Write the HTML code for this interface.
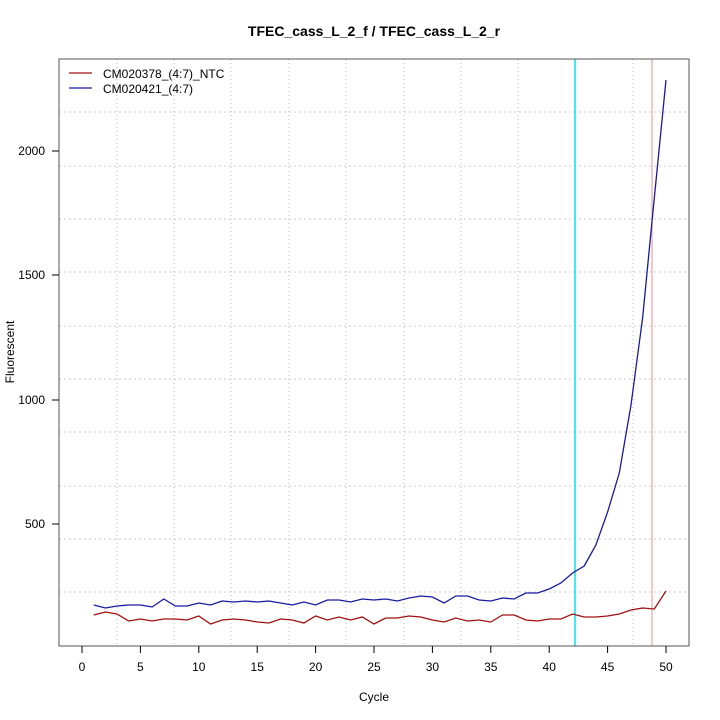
<!DOCTYPE html>
<html><head><meta charset="utf-8"><style>body{margin:0;background:#fff}svg{display:block}text{font-family:"Liberation Sans",sans-serif}</style></head>
<body>
<svg width="720" height="720" viewBox="0 0 720 720" xmlns="http://www.w3.org/2000/svg">
<rect width="720" height="720" fill="#fff"/>
<text x="374" y="36" font-size="14" font-weight="bold" text-anchor="middle">TFEC_cass_L_2_f / TFEC_cass_L_2_r</text>
<g stroke="#aaa" stroke-width="0.8" stroke-dasharray="1,3" fill="none">
<line x1="117" y1="59" x2="117" y2="646"/><line x1="174" y1="59" x2="174" y2="646"/><line x1="231" y1="59" x2="231" y2="646"/><line x1="289" y1="59" x2="289" y2="646"/><line x1="346" y1="59" x2="346" y2="646"/><line x1="404" y1="59" x2="404" y2="646"/><line x1="461" y1="59" x2="461" y2="646"/><line x1="518" y1="59" x2="518" y2="646"/><line x1="633" y1="59" x2="633" y2="646"/>
</g>
<g stroke="#bbb" stroke-width="0.8" stroke-dasharray="2,3" fill="none">
<line x1="59" y1="112" x2="689" y2="112"/><line x1="59" y1="166" x2="689" y2="166"/><line x1="59" y1="219" x2="689" y2="219"/><line x1="59" y1="272" x2="689" y2="272"/><line x1="59" y1="326" x2="689" y2="326"/><line x1="59" y1="379" x2="689" y2="379"/><line x1="59" y1="432" x2="689" y2="432"/><line x1="59" y1="486" x2="689" y2="486"/><line x1="59" y1="539" x2="689" y2="539"/><line x1="59" y1="592" x2="689" y2="592"/>
</g>
<line x1="575" y1="59" x2="575" y2="646" stroke="#00e5ee" stroke-width="1.5"/>
<line x1="652" y1="59" x2="652" y2="646" stroke="#f4a8a8" stroke-width="1.3"/>
<rect x="59" y="59" width="630" height="587" fill="none" stroke="#555" stroke-width="1"/>
<g stroke="#000" stroke-width="1">
<line x1="82" y1="646" x2="82" y2="653"/><line x1="140.4" y1="646" x2="140.4" y2="653"/><line x1="198.8" y1="646" x2="198.8" y2="653"/><line x1="257.2" y1="646" x2="257.2" y2="653"/><line x1="315.6" y1="646" x2="315.6" y2="653"/><line x1="374" y1="646" x2="374" y2="653"/><line x1="432.4" y1="646" x2="432.4" y2="653"/><line x1="490.8" y1="646" x2="490.8" y2="653"/><line x1="549.2" y1="646" x2="549.2" y2="653"/><line x1="607.6" y1="646" x2="607.6" y2="653"/><line x1="666" y1="646" x2="666" y2="653"/>
<line x1="52" y1="151" x2="59" y2="151"/><line x1="52" y1="275" x2="59" y2="275"/><line x1="52" y1="400" x2="59" y2="400"/><line x1="52" y1="524" x2="59" y2="524"/>
</g>
<g font-size="12" text-anchor="middle">
<text x="82" y="671">0</text><text x="140.4" y="671">5</text><text x="198.8" y="671">10</text><text x="257.2" y="671">15</text><text x="315.6" y="671">20</text><text x="374" y="671">25</text><text x="432.4" y="671">30</text><text x="490.8" y="671">35</text><text x="549.2" y="671">40</text><text x="607.6" y="671">45</text><text x="666" y="671">50</text>
</g>
<g font-size="12" text-anchor="end">
<text x="45" y="155">2000</text><text x="45" y="279">1500</text><text x="45" y="404">1000</text><text x="45" y="528">500</text>
</g>
<text x="374" y="701" font-size="12" text-anchor="middle">Cycle</text>
<text transform="translate(14,352) rotate(-90)" font-size="12" text-anchor="middle">Fluorescent</text>
<polyline fill="none" stroke="#1a1aa0" stroke-width="1.3" points="93.7,605 105.4,608 117,606 128.7,605 140.4,605 152.1,607 163.8,599 175.4,606 187.1,606 198.8,603 210.5,605 222.2,601 233.8,602 245.5,601 257.2,602 268.9,601 280.6,603 292.2,605 303.9,602 315.6,605 327.3,600 339,600 350.6,602 362.3,599 374,600 385.7,599 397.4,601 409,598 420.7,596 432.4,597 444.1,603 455.8,596 467.4,596 479.1,600 490.8,601 502.5,598 514.2,599 525.8,593 537.5,593 549.2,589 560.9,583 572.6,573 584.2,566 595.9,545 607.6,512 619.3,473 631,405 642.6,318 654.3,198 666,80"/>
<polyline fill="none" stroke="#a01010" stroke-width="1.3" points="93.7,615 105.4,612 117,614 128.7,621 140.4,619 152.1,621 163.8,619 175.4,619 187.1,620 198.8,616 210.5,624 222.2,620 233.8,619 245.5,620 257.2,622 268.9,623 280.6,619 292.2,620 303.9,623 315.6,616 327.3,620 339,617 350.6,620 362.3,617 374,624 385.7,618 397.4,618 409,616 420.7,617 432.4,620 444.1,622 455.8,618 467.4,621 479.1,620 490.8,622 502.5,615 514.2,615 525.8,620 537.5,621 549.2,619 560.9,619 572.6,614 584.2,617 595.9,617 607.6,616 619.3,614 631,610 642.6,608 654.3,609 666,591"/>
<line x1="69" y1="73" x2="92" y2="73" stroke="#a01010" stroke-width="1.3"/>
<line x1="69" y1="88" x2="92" y2="88" stroke="#1a1aa0" stroke-width="1.3"/>
<text x="103" y="78" font-size="12">CM020378_(4:7)_NTC</text>
<text x="103" y="93" font-size="12">CM020421_(4:7)</text>
</svg>
</body></html>
